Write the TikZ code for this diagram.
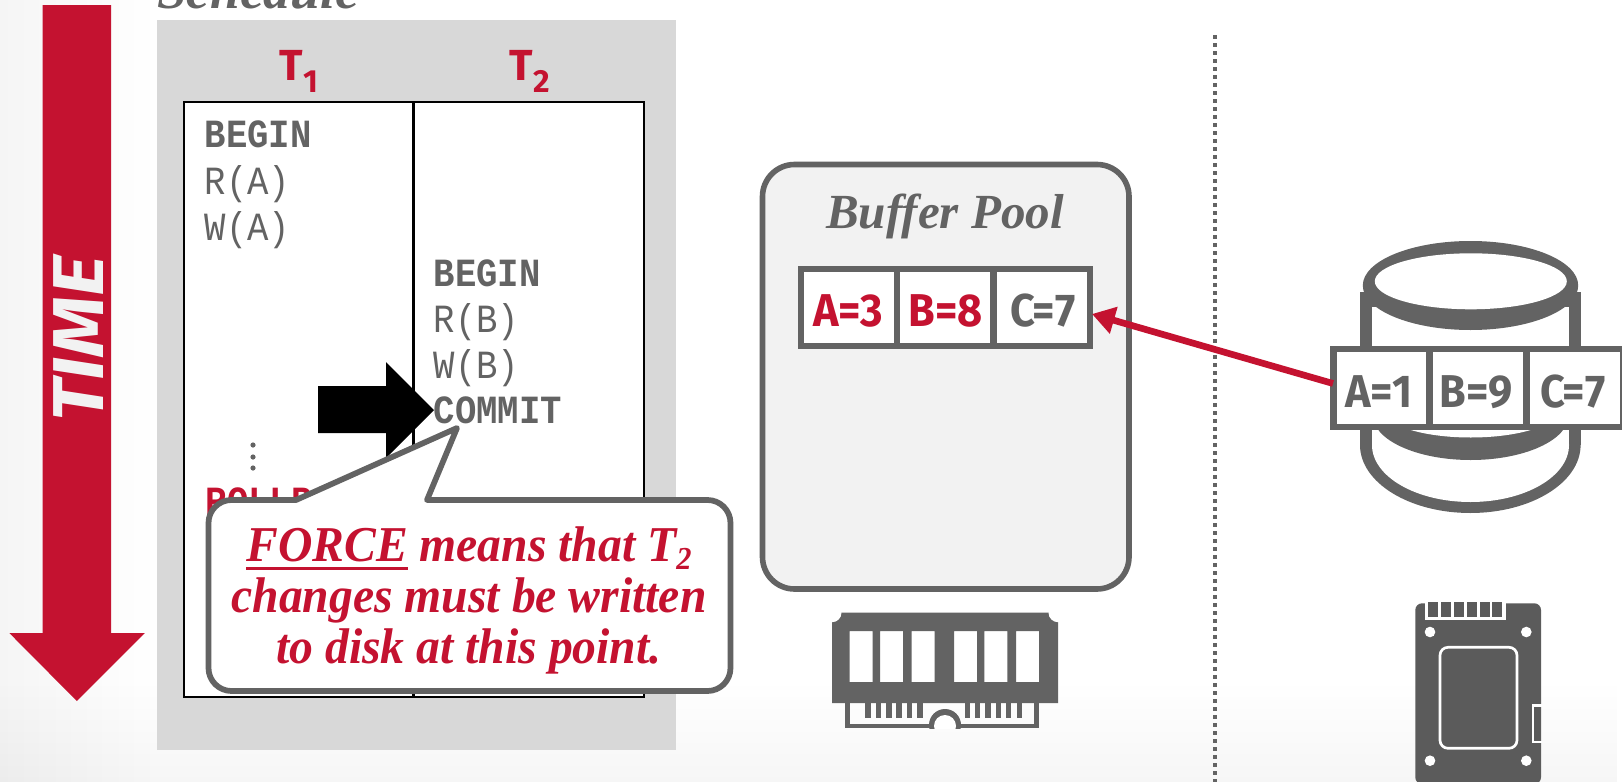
\documentclass[tikz,border=0pt]{standalone}
\usepackage{fontspec}
\usetikzlibrary{arrows.meta,fadings}
\setmainfont{Liberation Serif}
\newfontfamily\monofam{Liberation Mono}[FakeStretch=0.89]
\newfontfamily\labelfam{Fira Sans}
\newfontfamily\cellfam{Fira Sans}[FakeStretch=0.94]
\newfontfamily\timefam{Fira Sans}[FakeStretch=1.09]
\newfontfamily\notefam{Liberation Serif}[FakeStretch=0.95]
\definecolor{crim}{HTML}{C41230}
\definecolor{grayd}{HTML}{636363}
\definecolor{panel}{HTML}{D8D8D8}
\definecolor{poolfill}{HTML}{F2F2F2}
\newcommand{\ulf}[1]{\setbox0\hbox{#1}\rlap{\rule[-6.6pt]{\wd0}{1.9pt}}\box0\relax}
\tikzset{
  x=0.75pt,y=-0.75pt,
  monoplain/.style={anchor=base west,inner sep=0pt,text=grayd,font=\monofam\fontsize{30}{30}\selectfont},
  monobold/.style={anchor=base west,inner sep=0pt,text=grayd,font=\monofam\bfseries\fontsize{30}{30}\selectfont},
  cellbox/.style={draw=grayd,fill=white,line width=4.6pt,minimum width=72pt,minimum height=58pt,inner sep=0pt},
  celltext/.style={anchor=base,inner sep=0pt,font=\cellfam\bfseries\fontsize{34.5}{35}\selectfont,text=grayd},
  redtext/.style={celltext,text=crim},
  txnlabel/.style={anchor=base,inner sep=0pt,text=crim,font=\labelfam\bfseries\fontsize{32.6}{33}\selectfont},
  titletext/.style={anchor=base,inner sep=0pt,text=grayd,font=\bfseries\itshape\fontsize{36.8}{38}\selectfont},
}
\begin{document}
\begin{tikzpicture}
\useasboundingbox (0,0) rectangle (1622,782);
\clip (0,0) rectangle (1622,782);
\fill[white] (0,0) rectangle (1622,782);
\fill[black,opacity=.04,path fading=east] (0,0) rectangle (157,782);
\fill[black,opacity=.035,path fading=north] (0,680) rectangle (1622,782);

% time arrow
\fill[crim] (42.6,5) -- (111,5) -- (111,633) -- (144.8,633) -- (76.8,701) -- (9.3,633) -- (42.6,633) -- cycle;
\node[rotate=90,inner sep=0pt,text=poolfill,font=\timefam\bfseries\itshape\fontsize{54}{54}\selectfont] (timelabel) at (78.6,339) {TIME};

% schedule
\node[inner sep=0pt,anchor=base west,text=grayd,font=\bfseries\itshape\fontsize{40}{40}\selectfont] (schedlabel) at (157,8) {Schedule};
\fill[panel] (157,20) rectangle (676,750);
\node[draw=black,fill=white,line width=1.6pt,minimum width=345pt,minimum height=446pt,inner sep=0pt,anchor=north west] (table) at (183,101) {};
\coordinate (divtop) at (413.5,101);
\coordinate (divbot) at (413.5,696);
\draw[black,line width=1.6pt] (divtop) -- (divbot);

\node[txnlabel] (tone) at (299,80) {T\raisebox{-9pt}{\fontsize{24}{24}\selectfont 1}};
\node[txnlabel] (ttwo) at (530,80) {T\raisebox{-9pt}{\fontsize{24}{24}\selectfont 2}};

\node[monobold]  (a1) at (204.5,147) {BEGIN};
\node[monoplain] (a2) at (204.5,194) {R(A)};
\node[monoplain] (a3) at (204.5,240) {W(A)};
\node[monobold]  (b1) at (433.5,286) {BEGIN};
\node[monoplain] (b2) at (433.5,332) {R(B)};
\node[monoplain] (b3) at (433.5,378) {W(B)};
\node[monobold]  (b4) at (433.5,423) {COMMIT};
\foreach \yy in {445,457,468} \fill[grayd] (253,\yy) circle[radius=2.6];
\node[monobold,text=crim] (a4) at (205.5,514) {ROLLBACK};

% black pointer
\fill[black] (318,386) -- (386,386) -- (386,362) -- (434,410) -- (386,458) -- (386,433) -- (318,433) -- cycle;

% callout
\draw[grayd,fill=white,line width=4.3pt,line join=round]
  (296,500) -- (457,428) -- (427,500) -- (707.5,500)
  .. controls (720.2,500) and (730.5,510.3) .. (730.5,523) -- (730.5,668)
  .. controls (730.5,680.7) and (720.2,691) .. (707.5,691) -- (231.5,691)
  .. controls (218.8,691) and (208.5,680.7) .. (208.5,668) -- (208.5,523)
  .. controls (208.5,510.3) and (218.8,500) .. (231.5,500) -- cycle;
\node[inner sep=0pt,align=center,text=crim,font=\notefam\bfseries\itshape\fontsize{37.6}{38.25}\selectfont] (callout) at (469,600)
  {\ulf{FORCE} means that T\raisebox{-6pt}{\fontsize{24}{24}\selectfont 2}\\changes must be written\\to disk at this point.};

% dotted divider
\draw[grayd,line width=3pt,dash pattern=on 3pt off 3pt] (1215,35) -- (1215,782);

% buffer pool
\draw[grayd,fill=poolfill,line width=4.2pt,rounded corners=24pt] (762.5,164.5) rectangle (1129,589);
\node[titletext] (pooltitle) at (945,228) {Buffer Pool};
\node[cellbox] (ma) at (848.7,307.7) {};
\node[cellbox] (mb) at (945.4,307.7) {};
\node[cellbox] (mc) at (1042.2,307.7) {};
\node[redtext] (mat) at (848,326.7) {A=3};
\node[redtext] (mbt) at (945.5,326.7) {B=8};
\node[celltext] (mct) at (1043,326.7) {C=7};

% disk
\fill[grayd] (1360,292) rectangle (1580.7,445);
\fill[grayd] (1470.3,445) circle[x radius=110.3,y radius=68];
\fill[white] (1372,307) rectangle (1569,445);
\fill[white] (1470.5,445) circle[x radius=98.5,y radius=57];
\fill[grayd] (1470.7,415) circle[x radius=98,y radius=45];
\fill[white] (1470.7,409.5) circle[x radius=88,y radius=28];
\fill[grayd] (1470.5,285.5) circle[x radius=107.7,y radius=44.5];
\fill[white] (1470.8,281.3) circle[x radius=96,y radius=28];

\node[cellbox] (da) at (1381.5,388) {};
\node[cellbox] (db) at (1478,388) {};
\node[cellbox] (dc) at (1575,388) {};
\node[celltext] (dat) at (1379,407) {A=1};
\node[celltext] (dbt) at (1476,407) {B=9};
\node[celltext] (dct) at (1573,407) {C=7};

% red connector
\coordinate (rs) at (1333,383.5);
\coordinate (re) at (1092,314);
\draw[crim,line width=5pt,-{Triangle[length=17pt,width=20pt]}] (rs) -- (re);

% RAM
\fill[grayd,even odd rule] (832,612.7) rectangle (1058,703)
  (849.7,631) rectangle (872.7,682) (880,631) rectangle (903,682) (911.7,631) rectangle (934.7,682)
  (954,631) rectangle (977,682) (984.3,631) rectangle (1007.3,682) (1016,631) rectangle (1039,682);
\fill[white] (832,612.7) circle[radius=9.5];
\fill[white] (1058,612.7) circle[radius=9.5];
\fill[grayd] (845.3,703) rectangle (850,728.3);
\fill[grayd] (1034.3,703) rectangle (1039,728.3);
\fill[grayd] (845.3,723.5) rectangle (934,728.3);
\fill[grayd] (956,723.5) rectangle (1039,728.3);
\begin{scope}
  \clip (925,700) rectangle (965,728.3);
  \fill[grayd] (945,725) circle[radius=16];
  \fill[white] (945,726) circle[radius=11];
\end{scope}
\foreach \xa/\xb in {865/870.7,875.7/881.3,886/891.7,896.3/902,906.7/912.3,917/922.7,964.7/969.7,975/980,985.3/991,996/1001,1006/1011.3,1016.7/1022.3}
  \fill[grayd] (\xa,703) rectangle (\xb,718);

% SSD
\fill[grayd!92!black,rounded corners=5pt] (1415.3,603.3) rectangle (1541,784);
\fill[white] (1425,602) rectangle (1505.7,620);
\foreach \xa/\xb in {1428.3/1438.3,1441/1451,1454/1464,1466.7/1476.7,1479.7/1489.7,1492.3/1502.3}
  \fill[grayd!92!black] (\xa,602) rectangle (\xb,616.7);
\foreach \xx/\yy in {1430/632,1526.3/632,1430/760.7,1526.3/760.7}
  \fill[white] (\xx,\yy) circle[radius=5.3];
\draw[white,line width=2pt,rounded corners=6pt] (1440,647.3) rectangle (1517,748.3);
\draw[white,line width=2pt] (1542,705.5) -- (1533,705.5) -- (1533,742) -- (1542,742);
\end{tikzpicture}
\end{document}
